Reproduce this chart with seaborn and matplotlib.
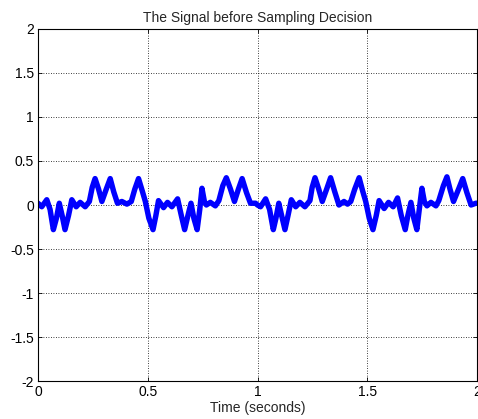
import matplotlib
matplotlib.use("Agg")
import matplotlib.pyplot as plt
import seaborn as sns
import pandas as pd

# Received waveform before the sampling decision (time in seconds, amplitude)
time_s = [
    0.000, 0.017, 0.040, 0.055, 0.070, 0.084, 0.097, 0.110, 0.123, 0.139,
    0.154, 0.174, 0.192, 0.215, 0.234, 0.247, 0.260, 0.276, 0.291, 0.311,
    0.329, 0.345, 0.362, 0.382, 0.405, 0.425, 0.441, 0.458, 0.475, 0.489,
    0.505, 0.524, 0.537, 0.549, 0.572, 0.590, 0.610, 0.636, 0.653, 0.668,
    0.683, 0.697, 0.710, 0.725, 0.737, 0.747, 0.758, 0.767, 0.785, 0.808,
    0.824, 0.842, 0.858, 0.877, 0.895, 0.913, 0.930, 0.950, 0.968, 0.991,
    1.000, 1.014, 1.037, 1.055, 1.072, 1.084, 1.097, 1.110, 1.125, 1.139,
    1.154, 1.174, 1.193, 1.216, 1.239, 1.249, 1.262, 1.279, 1.295, 1.315,
    1.333, 1.352, 1.371, 1.394, 1.410, 1.425, 1.443, 1.463, 1.479, 1.493,
    1.509, 1.526, 1.541, 1.554, 1.577, 1.597, 1.618, 1.638, 1.655, 1.673,
    1.685, 1.699, 1.712, 1.726, 1.737, 1.749, 1.760, 1.772, 1.790, 1.813,
    1.826, 1.847, 1.863, 1.877, 1.893, 1.916, 1.935, 1.954, 1.973, 1.995,
    2.000,
]
amplitude = [
    0.02, -0.02, 0.06, -0.05, -0.28, -0.15, 0.02, -0.12, -0.28, -0.12,
    0.06, -0.02, 0.03, -0.02, 0.04, 0.20, 0.30, 0.18, 0.04, 0.18,
    0.30, 0.15, 0.02, 0.04, 0.01, 0.04, 0.18, 0.30, 0.16, 0.04,
    -0.15, -0.28, -0.12, 0.05, -0.03, 0.03, -0.02, 0.07, -0.12, -0.28,
    -0.12, 0.02, -0.15, -0.28, -0.05, 0.19, 0.04, 0.00, 0.03, -0.01,
    0.05, 0.22, 0.31, 0.18, 0.04, 0.18, 0.30, 0.14, 0.02, 0.02,
    0.00, -0.02, 0.07, -0.05, -0.28, -0.15, 0.02, -0.12, -0.28, -0.12,
    0.06, -0.02, 0.03, -0.02, 0.05, 0.20, 0.31, 0.18, 0.04, 0.18,
    0.31, 0.15, 0.00, 0.04, 0.01, 0.04, 0.18, 0.31, 0.16, 0.04,
    -0.15, -0.28, -0.12, 0.05, -0.04, 0.03, -0.02, 0.08, -0.12, -0.28,
    -0.12, 0.03, -0.15, -0.28, -0.05, 0.19, 0.04, -0.01, 0.03, -0.01,
    0.05, 0.22, 0.32, 0.18, 0.04, 0.18, 0.30, 0.14, 0.00, 0.02,
    0.02,
]

x_ticks = [0, 0.5, 1, 1.5, 2]
x_tick_labels = ["0", "0.5", "1", "1.5", "2"]
y_ticks = [-2, -1.5, -1, -0.5, 0, 0.5, 1, 1.5, 2]
y_tick_labels = ["-2", "-1.5", "-1", "-0.5", "0", "0.5", "1", "1.5", "2"]

sns.set_style("white")
plt.rcParams["font.family"] = ["Liberation Sans", "DejaVu Sans"]

df = pd.DataFrame({"t": time_s, "y": amplitude})

fig = plt.figure(figsize=(4.78, 4.19), dpi=100)
ax = fig.add_axes([38 / 478, 38 / 419, 439 / 478, 352 / 419])

sns.lineplot(data=df, x="t", y="y", ax=ax, sort=False, estimator=None,
             color="#0000ff", linewidth=3.9, solid_joinstyle="round",
             solid_capstyle="round")

ax.set_xlim(0, 2)
ax.set_ylim(-2, 2)
ax.set_xticks(x_ticks)
ax.set_xticklabels(x_tick_labels)
ax.set_yticks(y_ticks)
ax.set_yticklabels(y_tick_labels)
ax.grid(True, color="black", linestyle=(0, (1, 2)), linewidth=0.6)
ax.set_axisbelow(True)
for s in ax.spines.values():
    s.set_visible(True)
    s.set_color("black")
    s.set_linewidth(0.8)
ax.tick_params(direction="in", length=3, width=0.6, colors="black",
               labelsize=10, pad=3, top=True, right=True,
               bottom=True, left=True)
ax.set_xlabel("Time (seconds)", fontsize=10, labelpad=1.5)
ax.set_ylabel("")
ax.set_title("The Signal before Sampling Decision", fontsize=10, pad=5)

fig.savefig("out.png", dpi=100)
